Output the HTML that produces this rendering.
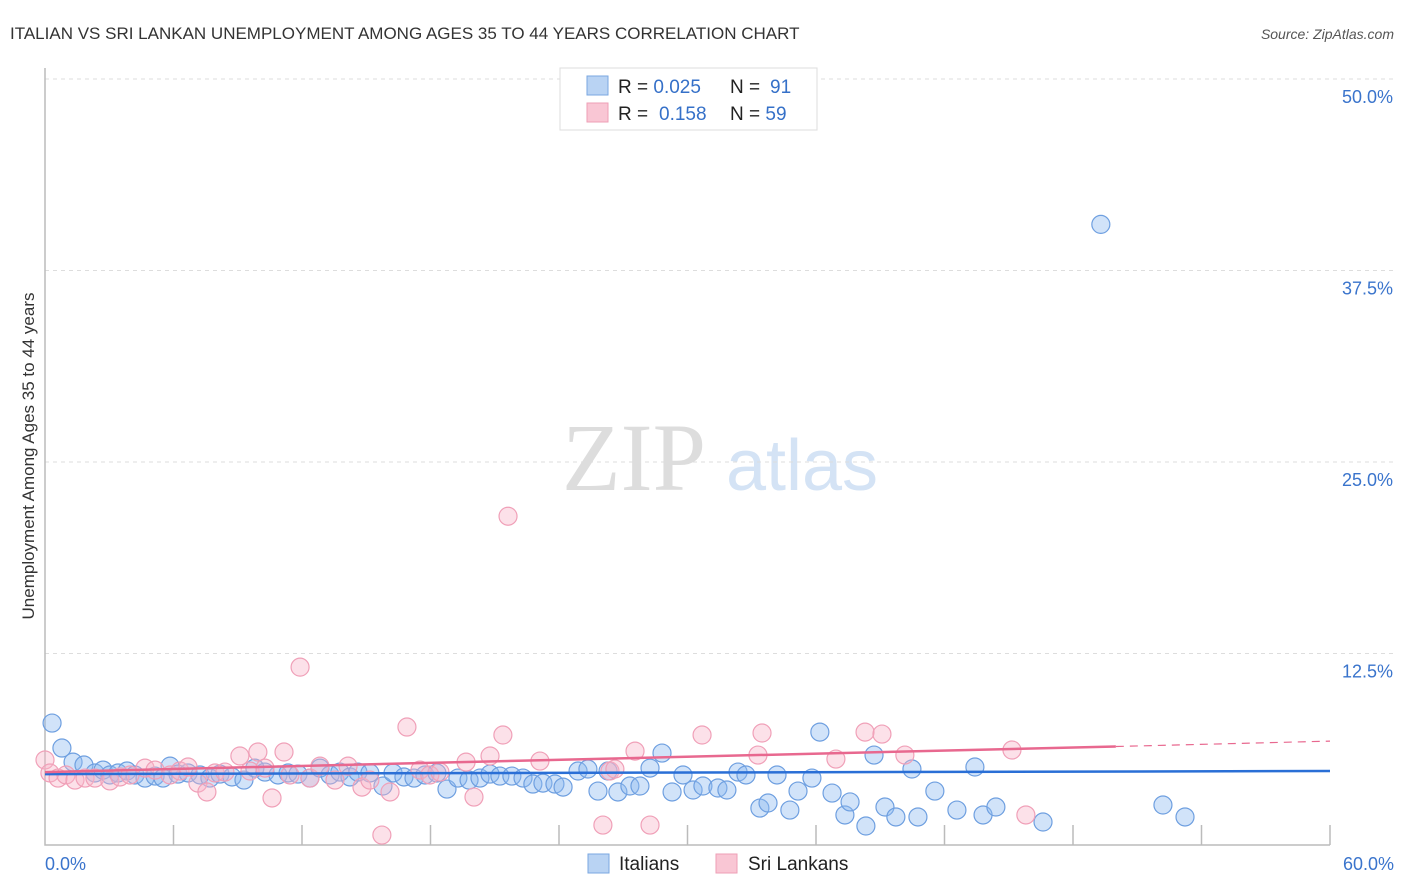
<!DOCTYPE html>
<html><head><meta charset="utf-8"><style>
body{margin:0;width:1406px;height:892px;background:#fff;font-family:"Liberation Sans",sans-serif;overflow:hidden}
svg{position:absolute;left:0;top:0}
</style></head><body>
<svg id="chart" width="1406" height="892">
<text x="10" y="39" font-size="17" fill="#333">ITALIAN VS SRI LANKAN UNEMPLOYMENT AMONG AGES 35 TO 44 YEARS CORRELATION CHART</text>
<text x="1394" y="39" font-size="14" fill="#555" font-style="italic" text-anchor="end">Source: ZipAtlas.com</text>
<g>
<text x="634" y="490" font-size="96" font-family="Liberation Serif,serif" fill="#ddd" text-anchor="middle">ZIP</text>
<text x="802" y="490" font-size="72" fill="#d4e3f5" text-anchor="middle">atlas</text>
</g>
<g id="grid"></g>
<g id="axes"></g>
<g id="pts"></g>
<g id="trend"></g>
<text transform="translate(34,456) rotate(-90)" font-size="17" fill="#333" text-anchor="middle">Unemployment Among Ages 35 to 44 years</text>
<g>
<rect x="560" y="68" width="257" height="62" fill="#fff" stroke="#ddd"/>
<rect x="587" y="76" width="21" height="19" fill="#b9d3f3" stroke="#7aa7e0"/>
<rect x="587" y="103" width="21" height="19" fill="#f9c6d4" stroke="#ee9fb6"/>
<text x="618" y="93" font-size="19" fill="#222">R = <tspan fill="#3570c8">0.025</tspan><tspan x="730">N = </tspan><tspan fill="#3570c8" x="770">91</tspan></text>
<text x="618" y="120" font-size="19" fill="#222">R = <tspan fill="#3570c8" x="659">0.158</tspan><tspan x="730">N = </tspan><tspan fill="#3570c8">59</tspan></text>
</g>
<g>
<rect x="588" y="854" width="21" height="19" fill="#b9d3f3" stroke="#7aa7e0"/>
<text x="619" y="870" font-size="19" fill="#222">Italians</text>
<rect x="716" y="854" width="21" height="19" fill="#f9c6d4" stroke="#ee9fb6"/>
<text x="748" y="870" font-size="19" fill="#222">Sri Lankans</text>
</g>
</svg>
<script>
const yTicks=[12.5,25,37.5,50];
const yTickLabels=["12.5%","25.0%","37.5%","50.0%"];
const xTickLabels=["0.0%","60.0%"];
const italX=[0.33,0.79,1.31,1.82,2.33,2.71,3.03,3.41,3.83,4.20,4.67,5.14,5.51,5.84,6.21,6.68,7.24,7.70,8.17,8.73,9.29,9.80,10.27,10.88,11.35,11.81,12.37,12.84,13.31,13.77,14.24,14.61,15.17,15.78,16.25,16.76,17.23,17.74,18.30,18.77,19.28,19.80,20.31,20.78,21.24,21.80,22.32,22.78,23.25,23.81,24.19,24.89,25.35,25.82,26.29,26.75,27.31,27.78,28.25,28.81,29.28,29.79,30.26,30.72,31.42,31.84,32.36,32.73,33.38,33.76,34.18,34.78,35.16,35.81,36.18,36.75,37.35,37.59,38.33,38.71,39.22,39.73,40.48,40.76,41.55,42.58,43.42,43.80,44.40,46.60,49.30,52.20,53.23];
const italY=[7.96,6.33,5.41,5.22,4.70,4.89,4.57,4.70,4.83,4.57,4.37,4.50,4.37,5.15,4.63,4.70,4.57,4.37,4.63,4.44,4.24,5.02,4.76,4.57,4.70,4.63,4.37,5.02,4.57,4.76,4.44,4.76,4.70,3.85,4.70,4.44,4.37,4.57,4.70,3.65,4.37,4.24,4.37,4.63,4.50,4.50,4.37,3.98,4.04,3.98,3.78,4.83,4.96,3.52,4.83,3.46,3.85,3.85,5.02,6.00,3.46,4.57,3.59,3.85,3.72,3.59,4.76,4.57,2.41,2.74,4.57,2.28,3.52,4.37,7.37,3.39,1.96,2.81,1.24,5.87,2.48,1.83,4.96,1.83,3.52,2.28,5.09,1.96,2.48,1.50,40.51,2.61,1.83];
const sriX=[0.00,0.23,0.61,0.98,1.40,1.87,2.33,3.03,3.50,3.97,4.67,5.14,5.84,6.30,6.68,7.14,7.56,7.94,8.40,9.10,9.57,9.94,10.27,10.60,11.16,11.44,11.91,12.37,12.84,13.54,14.15,14.80,15.17,15.73,16.11,16.90,17.51,17.97,18.44,19.66,20.03,20.78,21.38,21.62,23.11,26.05,26.38,26.61,27.55,28.25,30.68,33.29,33.48,36.93,38.29,39.08,40.15,45.15,45.80];
const sriY=[5.55,4.70,4.37,4.57,4.24,4.37,4.37,4.18,4.44,4.57,5.02,4.89,4.57,4.83,5.09,4.04,3.46,4.70,4.76,5.81,4.83,6.07,5.02,3.07,6.07,4.57,11.61,4.37,5.15,4.24,5.15,3.78,4.24,0.65,3.46,7.70,4.89,4.57,4.76,5.41,3.13,5.81,7.18,21.46,5.48,1.30,4.83,4.96,6.13,1.30,7.18,5.87,7.31,5.61,7.37,7.24,5.87,6.20,1.96];
const italTrend=[4.63,4.83];
const sriTrend=[4.76,6.43,6.78];
const X0=45,X1=1330,Y0=845,Y1=79;
const xs=v=>X0+(v/60)*(X1-X0);
const ys=v=>Y0-(v/50)*(Y0-Y1);
const NS="http://www.w3.org/2000/svg";
function mk(p,tag,attrs){const e=document.createElementNS(NS,tag);for(const k in attrs)e.setAttribute(k,attrs[k]);p.appendChild(e);return e;}
const grid=document.getElementById('grid'),axes=document.getElementById('axes'),pts=document.getElementById('pts'),tr=document.getElementById('trend');
yTicks.forEach((t,i)=>{
 const l=mk(grid,'line',{x1:X0,x2:1395,y1:ys(t),y2:ys(t),stroke:'#ddd','stroke-dasharray':'4,4'});
 
 
 const tx=mk(grid,'text',{x:1393,y:ys(t)+24,'font-size':18,fill:'#3a74cc','text-anchor':'end'});
 tx.textContent=yTickLabels[i];
 
 
});
const ax=mk(axes,'path',{d:`M${X0},68V${Y0}H${X1}`,fill:'none',stroke:'#bbb','stroke-width':1.5});


for(let k=1;k<=10;k++){
 const x=xs(k*6);
 const t=mk(axes,'line',{x1:x,x2:x,y1:825,y2:Y0,stroke:'#bbb','stroke-width':1.5});
 
 
}
[[0,'start',45],[60,'end',1394]].forEach((d,i)=>{
 const tx=mk(axes,'text',{x:d[2],y:870,'font-size':18,fill:'#3a74cc','text-anchor':d[1]});
 tx.textContent=xTickLabels[i];
 
 
});
italX.forEach((v,i)=>{
 const c=mk(pts,'circle',{cx:xs(v),cy:ys(italY[i]),r:9,fill:'rgba(140,185,240,0.4)',stroke:'#6e9fe0','stroke-width':1.2});
 
 
});
sriX.forEach((v,i)=>{
 const c=mk(pts,'circle',{cx:xs(v),cy:ys(sriY[i]),r:9,fill:'rgba(248,180,200,0.4)',stroke:'#f0a0b8','stroke-width':1.2});
 
 
});
const bl=mk(tr,'line',{x1:xs(0),x2:xs(60),y1:ys(italTrend[0]),y2:ys(italTrend[1]),stroke:'#2a6fd6','stroke-width':2.5});


const pl=mk(tr,'line',{x1:xs(0),x2:xs(50),y1:ys(sriTrend[0]),y2:ys(sriTrend[1]),stroke:'#e8688f','stroke-width':2.5});


const pd=mk(tr,'line',{x1:xs(50),x2:xs(60),y1:ys(sriTrend[1]),y2:ys(sriTrend[2]),stroke:'#e8688f','stroke-width':1.2,'stroke-dasharray':'8,6'});


</script>
</body></html>
